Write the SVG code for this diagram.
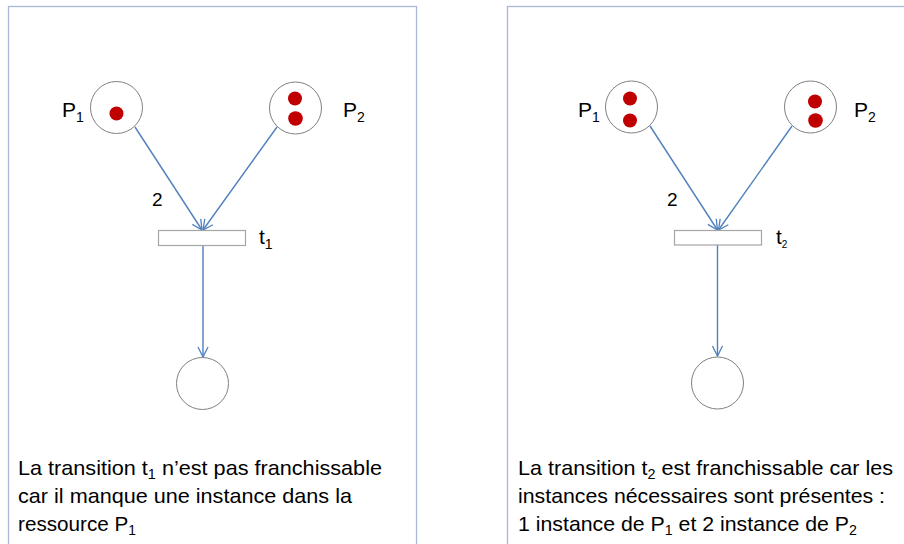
<svg xmlns="http://www.w3.org/2000/svg" width="904" height="544" viewBox="0 0 904 544">
<style>
.panel{fill:#fff;stroke:#A9B8D6;stroke-width:1.3}
.place{fill:#fff;stroke:#808080;stroke-width:1}
.tok{fill:#C00000}
.trans{fill:#fff;stroke:#A6A6A6;stroke-width:1.2}
.arc{stroke:#4F81BD;stroke-width:1.4;fill:none;marker-end:url(#arr)}
.lbl{font-family:"Liberation Sans",Arial,sans-serif;font-size:21px;fill:#000}
.sub{font-size:14px}
.txt{font-family:"Liberation Sans",Arial,sans-serif;font-size:21px;fill:#000}
</style>
<defs>
<marker id="arr" viewBox="0 0 12 12" refX="11" refY="6" markerWidth="12" markerHeight="12" markerUnits="userSpaceOnUse" orient="auto">
<path d="M1,1 L11,6 L1,11" fill="none" stroke="#4F81BD" stroke-width="1.3"/>
</marker>
</defs>
<rect class="panel" x="8.5" y="6.5" width="408" height="600"/>
<rect class="panel" x="507.5" y="6.5" width="500" height="600"/>
<g id="connectors">
<line class="arc" x1="135" y1="127" x2="202" y2="230"/>
<line class="arc" x1="277" y1="127" x2="203" y2="230"/>
<line class="arc" x1="203" y1="245" x2="203" y2="357"/>
<line class="arc" x1="650" y1="126" x2="717.5" y2="230"/>
<line class="arc" x1="792" y1="126" x2="718.5" y2="230"/>
<line class="arc" x1="717.5" y1="245" x2="717.5" y2="356"/>
</g>
<g id="L_P1">
<circle class="place" cx="116.5" cy="107.5" r="26"/>
<circle class="tok" cx="116.5" cy="113.5" r="7"/>
<text class="lbl" x="62" y="117">P<tspan class="sub" dy="5">1</tspan></text>
</g>
<g id="L_P2">
<circle class="place" cx="295.5" cy="108" r="26"/>
<circle class="tok" cx="295" cy="98.5" r="7"/>
<circle class="tok" cx="295.5" cy="118.5" r="7.3"/>
<text class="lbl" x="343" y="117">P<tspan class="sub" dy="5">2</tspan></text>
</g>
<g id="L_t1">
<rect class="trans" x="158.5" y="230.5" width="87" height="15"/>
<text class="lbl" x="259" y="244">t<tspan class="sub" dy="5">1</tspan></text>
</g>
<g id="L_out">
<circle class="place" cx="202.5" cy="383.5" r="26"/>
</g>
<text class="lbl" x="152" y="206" style="font-size:19px">2</text>
<g id="R_P1">
<circle class="place" cx="631.5" cy="107" r="26"/>
<circle class="tok" cx="630" cy="98.5" r="7"/>
<circle class="tok" cx="630" cy="120.5" r="7"/>
<text class="lbl" x="578" y="117">P<tspan class="sub" dy="5">1</tspan></text>
</g>
<g id="R_P2">
<circle class="place" cx="810.5" cy="107" r="26"/>
<circle class="tok" cx="815" cy="101.5" r="7"/>
<circle class="tok" cx="815.5" cy="120.5" r="7.3"/>
<text class="lbl" x="854" y="117">P<tspan class="sub" dy="5">2</tspan></text>
</g>
<g id="R_t2">
<rect class="trans" x="674.5" y="230.5" width="87" height="14.5"/>
<text class="lbl" x="776" y="244">t<tspan class="sub" style="font-size:10px" dy="4">2</tspan></text>
</g>
<g id="R_out">
<circle class="place" cx="717.5" cy="383" r="26"/>
</g>
<text class="lbl" x="667" y="206" style="font-size:19px">2</text>
<g id="L_caption">
<text class="txt" x="18" y="475" textLength="364" lengthAdjust="spacingAndGlyphs">La transition t<tspan class="sub" dy="4">1</tspan><tspan dy="-4"> n’est pas franchissable</tspan></text>
<text class="txt" x="18" y="503" textLength="334" lengthAdjust="spacingAndGlyphs">car il manque une instance dans la</text>
<text class="txt" x="18" y="531" textLength="118" lengthAdjust="spacingAndGlyphs">ressource P<tspan class="sub" dy="4">1</tspan></text>
</g>
<g id="R_caption">
<text class="txt" x="518" y="475" textLength="375" lengthAdjust="spacingAndGlyphs">La transition t<tspan class="sub" dy="4">2</tspan><tspan dy="-4"> est franchissable car les</tspan></text>
<text class="txt" x="518" y="503" textLength="367" lengthAdjust="spacingAndGlyphs">instances nécessaires sont présentes :</text>
<text class="txt" x="518" y="531" textLength="339" lengthAdjust="spacingAndGlyphs">1 instance de P<tspan class="sub" dy="4">1</tspan><tspan dy="-4"> et 2 instance de P</tspan><tspan class="sub" dy="4">2</tspan></text>
</g>
</svg>
